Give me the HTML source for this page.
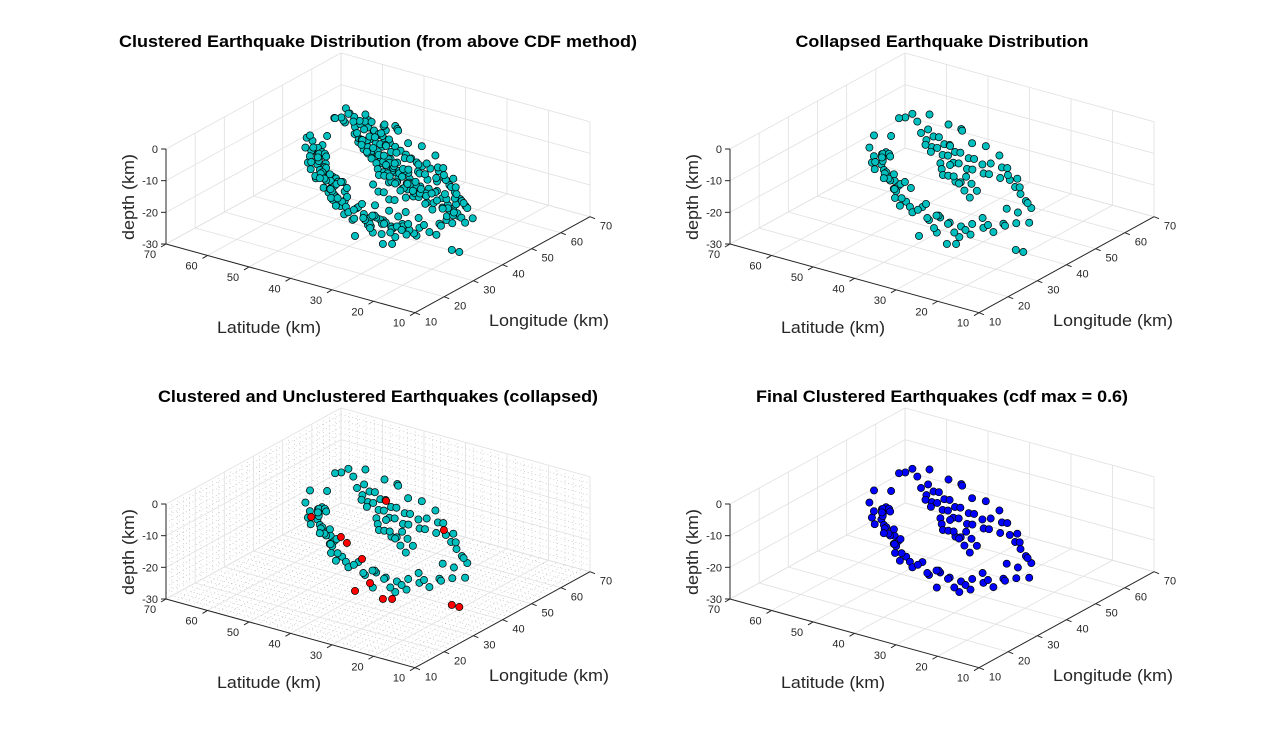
<!DOCTYPE html>
<html><head><meta charset="utf-8"><style>
html,body{margin:0;padding:0;background:#fff;}
svg{display:block;font-family:"Liberation Sans",sans-serif;}
</style></head><body>
<svg id="fig" width="1280" height="749" viewBox="0 0 1280 749" xmlns="http://www.w3.org/2000/svg"></svg>
<script>
// Clustered (collapsed) earthquake set
const cLat=[61,62,60,58,57,57,58,56,59,55,54,53,52,51,50,49,48,47,46,45,44,43,42,41,40,43,47,52,55,50,
38,37,36,34,33,32,31,30,29,28,27,26,25,24,23,22,24,21,22,20,21,19,23,26,28,35,30,
57,56,55,54,53,52,51,50,49,48,47,46,45,44,43,42,41,40,39,38,37,36,35,34,33,32,30,28,26,24,22,25,29,36,40,44,48,31,
46,45,44,43,42,41,40,39,38,37,36,35,34,33,49,51,
65,64,62,56,52,60,63,57,58,57,56];
const cLon=[45,48,51,45,44,45,46,42,43,41,40,42,38,36,38,35,33,35,32,31,30,32,29,27,29,28,30,34,38,40,
27,29,26,27,25,28,26,24,27,25,28,26,29,27,30,32,33,34,36,37,39,40,38,34,31,31,30,
57,58,56,57,55,56,54,55,53,54,52,53,51,52,50,52,50,51,49,51,50,51,49,52,50,51,49,48,47,46,45,48,51,54,55,56,58,53,
48,47,46,47,45,46,44,45,43,44,42,43,41,42,49,50,
63,64,67,65,64,60,58,44,45,46,45];
const cDep=[-14,-12,-13,-15,-15,-14,-16,-16,-17,-14,-16,-18,-15,-14,-17,-15,-13,-16,-15,-17,-14,-18,-15,-16,-17,-12,-11,-12,-11,-19,
-17,-16,-15,-18,-16,-17,-15,-19,-17,-16,-18,-20,-17,-19,-18,-20,-19,-18,-20,-19,-17,-20,-16,-18,-21,-19,-22,
-14,-13,-15,-14,-16,-13,-15,-14,-16,-13,-15,-14,-16,-13,-15,-14,-16,-13,-15,-14,-16,-13,-15,-14,-16,-13,-15,-16,-17,-18,-19,-20,-18,-12,-11,-12,-10,-17,
-15,-16,-17,-14,-16,-18,-15,-17,-16,-14,-17,-15,-18,-16,-13,-12,
-15,-14,-15,-15,-15,-13,-12,-14,-16,-15,-15];
// Unclustered events (shown red in the third panel)
const uLat=[56.8,46.2,43.5,36.4,40.1,40.2,33.4,31.9,49.5,31.7,20.6,18.8];
const uLon=[41,36.1,34.3,29.4,37.4,32.4,32.3,33.3,56.3,50.8,37.7,37.7];
const uDep=[-15,-15,-15,-15,-28,-28,-28,-28,-15,-15,-28,-28];
// Additional events only in the un-collapsed clustered distribution
const dLat=[60,59,58,56,55,54,53,52,51,50,49,48,47,46,45,44,43,42,41,40,39,61,59,55,53,
37,35,33,31,29,27,25,23,21,20,22,25,27,32,34,
56,55,54,53,52,51,50,49,48,47,46,45,44,43,42,41,40,39,38,37,36,35,34,33,32,31,30,29,28,27,26,25,24,23,22,21,20,
47,45,43,41,39,37,35,33,31,29,44,42,40,38,36,
66,63,61,59,58,57,55,54,53,60,62,66,55,50,52,
24,23,25,24,22,
60,58,57,55,54,52,51,49,48,46,45,44,42,41,39,38,
36,34,32,30,28,26,24,35,33,31,29,27,
54,53,51,50,48,47,45,44,42,41,39,38,36,35,33,32,30,29,27,26,
50,48,46,44,42,40,38,36,34,32,30,28,
58,56,54,52,50,48,46,44,42,40,38,36,34,32,30,28,26,24,
62,61,59,57,56,54,52,64];
const dLon=[46,48,43,44,43,42,39,40,39,36,37,36,33,34,33,31,29,31,30,28,27,47,46,40,37,
27,28,27,29,25,26,27,29,33,35,38,31,30,30,29,
56,58,55,57,54,56,53,55,52,54,51,53,50,52,49,51,48,50,48,49,47,48,46,48,46,48,46,47,45,46,44,45,43,44,42,43,44,
50,49,48,48,47,46,45,44,44,43,44,43,42,41,40,
62,63,62,61,59,61,60,62,60,64,65,66,64,58,59,
44,43,45,42,43,
44,45,42,43,41,38,37,35,37,33,35,32,30,30,28,29,
27,28,26,27,28,27,28,30,29,31,29,31,
57,55,55,53,53,51,52,50,50,48,49,47,48,46,47,45,46,44,45,43,
52,51,50,49,48,47,46,45,44,43,42,42,
60,59,58,57,56,55,54,53,52,51,50,49,48,47,46,45,44,43,
60,58,59,62,63,61,63,66];
const dDep=[-12,-14,-13,-18,-13,-15,-14,-17,-16,-13,-18,-14,-17,-13,-18,-16,-14,-17,-13,-15,-18,-16,-18,-19,-16,
-19,-17,-19,-18,-15,-17,-16,-20,-21,-17,-18,-21,-19,-20,-21,
-16,-12,-17,-12,-16,-12,-17,-12,-16,-12,-17,-12,-17,-12,-17,-12,-17,-12,-17,-12,-17,-12,-17,-12,-17,-12,-17,-13,-18,-14,-19,-15,-19,-16,-20,-17,-21,
-14,-18,-20,-19,-20,-19,-20,-19,-20,-21,-19,-20,-19,-20,-19,
-15,-13,-16,-14,-17,-12,-14,-13,-15,-15,-16,-14,-16,-14,-11,
-18,-20,-17,-19,-21,
-10,-13,-11,-17,-12,-16,-19,-11,-15,-19,-14,-12,-18,-16,-13,-20,
-15,-20,-16,-21,-19,-14,-18,-21,-14,-16,-20,-15,
-15,-18,-14,-17,-13,-16,-19,-14,-17,-13,-16,-18,-14,-17,-15,-18,-14,-16,-18,-15,
-17,-14,-16,-18,-15,-17,-19,-16,-18,-17,-19,-18,
-18,-17,-19,-18,-20,-18,-19,-20,-18,-21,-19,-20,-21,-19,-20,-21,-20,-21,
-14,-12,-16,-13,-17,-15,-13,-16];
const latTicks=[10,20,30,40,50,60,70];
const lonTicks=[10,20,30,40,50,60,70];
const zTicks=[-30,-20,-10,0];
const titles=["Clustered Earthquake Distribution (from above CDF method)","Collapsed Earthquake Distribution","Clustered and Unclustered Earthquakes (collapsed)","Final Clustered Earthquakes (cdf max = 0.6)"];
const titleW=[518,293,440,372];

const NS="http://www.w3.org/2000/svg";
const svg=document.getElementById('fig');
function mk(tag,attrs,parent){const e=document.createElementNS(NS,tag);for(const k in attrs)e.setAttribute(k,attrs[k]);(parent||svg).appendChild(e);return e;}

function makePanel(ox,oy){
  return function(lat,lon,z){
    const a=(lat-10)/60,b=(lon-10)/60,c=(z+30)/30;
    return [ox+415-249*a+175*b, oy+312.7-68.7*a-96*b-95*c];
  };
}
function line(g,p,q,st,name){const l=mk('line',{x1:p[0],y1:p[1],x2:q[0],y2:q[1],stroke:st.c,'stroke-width':st.w,'stroke-dasharray':st.d||'none'},g);
  
  return l;}

const panels=[[0,0],[564,0],[0,355],[564,355]];
panels.forEach((o,pi)=>{
  const P=makePanel(o[0],o[1]);
  const g=mk('g',{});
  
  
  const grid={c:'#e0e0e0',w:0.8};
  if(pi===2){
    const mg={c:'#a8a8a8',w:0.6,d:'0.8 3'};
    for(let v=12;v<70;v+=2){ if(v%10===0)continue;
      line(g,P(v,10,-30),P(v,70,-30),mg,'minor-grid');
      line(g,P(10,v,-30),P(70,v,-30),mg,'minor-grid');
      line(g,P(70,v,-30),P(70,v,0),mg,'minor-grid');
      line(g,P(v,70,-30),P(v,70,0),mg,'minor-grid');}
    for(let z=-28;z<0;z+=2){ if(z%10===0)continue;
      line(g,P(70,10,z),P(70,70,z),mg,'minor-grid');
      line(g,P(70,70,z),P(10,70,z),mg,'minor-grid');}
  }
  latTicks.forEach(v=>{line(g,P(v,10,-30),P(v,70,-30),grid,'lat-grid');line(g,P(v,70,-30),P(v,70,0),grid,'lat-grid');});
  lonTicks.forEach(v=>{line(g,P(10,v,-30),P(70,v,-30),grid,'lon-grid');line(g,P(70,v,-30),P(70,v,0),grid,'lon-grid');});
  zTicks.forEach(z=>{line(g,P(70,10,z),P(70,70,z),grid,'z-grid');line(g,P(70,70,z),P(10,70,z),grid,'z-grid');});
  const ax={c:'#262626',w:1};
  line(g,P(70,10,-30),P(70,10,0),ax,'z-axis');
  line(g,P(10,10,-30),P(70,10,-30),ax,'lat-axis');
  line(g,P(10,10,-30),P(10,70,-30),ax,'lon-axis');
  const tc='#262626';
  zTicks.forEach(z=>{const p=P(70,10,z);line(g,p,[p[0]-5,p[1]],ax,'z-tick');
    const t=mk('text',{x:p[0]-8,y:p[1]+4,'font-size':11,fill:tc,'text-anchor':'end'},g);t.textContent=z;
    
    });
  latTicks.forEach(v=>{const p=P(v,10,-30);line(g,p,[p[0]-5,p[1]+3],ax,'lat-tick');
    const t=mk('text',{x:p[0]-16,y:p[1]+14,'font-size':11,fill:tc,'text-anchor':'middle'},g);t.textContent=v;
    
    });
  lonTicks.forEach(v=>{const p=P(10,v,-30);line(g,p,[p[0]+5,p[1]+2],ax,'lon-tick');
    const t=mk('text',{x:p[0]+16,y:p[1]+13,'font-size':11,fill:tc,'text-anchor':'middle'},g);t.textContent=v;
    
    });
  let t=mk('text',{x:o[0]+269,y:o[1]+333,'font-size':17,fill:tc,'text-anchor':'middle',textLength:104,lengthAdjust:'spacingAndGlyphs'},g);t.textContent='Latitude (km)';
  
  
  t=mk('text',{x:o[0]+549,y:o[1]+326,'font-size':17,fill:tc,'text-anchor':'middle',textLength:120,lengthAdjust:'spacingAndGlyphs'},g);t.textContent='Longitude (km)';
  
  
  t=mk('text',{x:0,y:0,'font-size':17,fill:tc,'text-anchor':'middle',textLength:86,lengthAdjust:'spacingAndGlyphs',transform:'translate('+(o[0]+134)+','+(o[1]+197)+') rotate(-90)'},g);t.textContent='depth (km)';
  
  
  t=mk('text',{x:o[0]+378,y:o[1]+47,'font-size':17,'font-weight':'bold',fill:'#000','text-anchor':'middle',textLength:titleW[pi],lengthAdjust:'spacingAndGlyphs'},g);t.textContent=titles[pi];
  
  
  function pts(lat,lon,dep,fill){
    for(let i=0;i<lat.length;i++){const p=P(lat[i],lon[i],dep[i]);
      const c=mk('circle',{cx:p[0].toFixed(1),cy:p[1].toFixed(1),r:3.6,fill:fill,stroke:'#000','stroke-width':0.7},g);
      
      }
  }
  const cyan='#00bfbf';
  if(pi===0){pts(dLat,dLon,dDep,cyan);pts(cLat,cLon,cDep,cyan);pts(uLat,uLon,uDep,cyan);}
  if(pi===1){pts(cLat,cLon,cDep,cyan);pts(uLat,uLon,uDep,cyan);}
  if(pi===2){pts(cLat,cLon,cDep,cyan);pts(uLat,uLon,uDep,'#ff0000');}
  if(pi===3){pts(cLat,cLon,cDep,'#0000ff');}
});
</script>
</body></html>
